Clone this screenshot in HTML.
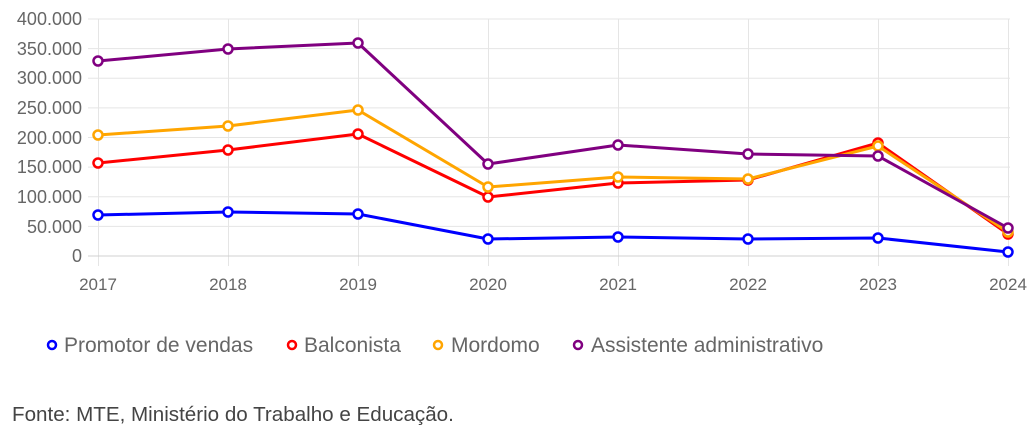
<!DOCTYPE html>
<html><head><meta charset="utf-8"><style>
body{margin:0;background:#fff;width:1034px;height:436px;overflow:hidden;font-family:"Liberation Sans",sans-serif}
</style></head><body>
<svg width="1034" height="436" xmlns="http://www.w3.org/2000/svg" style="position:absolute;left:0;top:0">
<g stroke="#e5e5e5" stroke-width="1">
<line x1="88" x2="1010" y1="19" y2="19"/><line x1="88" x2="1010" y1="48.6" y2="48.6"/>
<line x1="88" x2="1010" y1="78.2" y2="78.2"/><line x1="88" x2="1010" y1="107.9" y2="107.9"/>
<line x1="88" x2="1010" y1="137.5" y2="137.5"/><line x1="88" x2="1010" y1="167.1" y2="167.1"/>
<line x1="88" x2="1010" y1="196.8" y2="196.8"/><line x1="88" x2="1010" y1="226.4" y2="226.4"/>
<line x1="98.5" x2="98.5" y1="19" y2="266"/><line x1="228.5" x2="228.5" y1="19" y2="266"/>
<line x1="358.5" x2="358.5" y1="19" y2="266"/><line x1="488.5" x2="488.5" y1="19" y2="266"/>
<line x1="618.5" x2="618.5" y1="19" y2="266"/><line x1="748.5" x2="748.5" y1="19" y2="266"/>
<line x1="878.5" x2="878.5" y1="19" y2="266"/><line x1="1008.5" x2="1008.5" y1="19" y2="266"/>
</g>
<line x1="88" x2="1010" y1="256" y2="256" stroke="#d0d0d0"/>
<g font-size="18" fill="#666" text-anchor="end">
<text x="82" y="25">400.000</text><text x="82" y="55">350.000</text><text x="82" y="84">300.000</text>
<text x="82" y="114">250.000</text><text x="82" y="144">200.000</text><text x="82" y="173">150.000</text>
<text x="82" y="203">100.000</text><text x="82" y="233">50.000</text><text x="82" y="262">0</text>
</g>
<g font-size="17" fill="#666" text-anchor="middle">
<text x="98" y="290">2017</text><text x="228" y="290">2018</text><text x="358" y="290">2019</text><text x="488" y="290">2020</text>
<text x="618" y="290">2021</text><text x="748" y="290">2022</text><text x="878" y="290">2023</text><text x="1008" y="290">2024</text>
</g>
<g fill="none" stroke-width="3" stroke-linejoin="round">
<polyline stroke="#0000ff" points="98,215 228,212 358,214 488,239 618,237 748,239 878,238 1008,252"/>
<polyline stroke="#ff0000" points="98,163 228,150 358,134 488,197 618,183 748,180 878,143 1008,234"/>
<polyline stroke="#ffa500" points="98,135 228,126 358,110 488,187 618,177 748,179 878,146 1008,232"/>
<polyline stroke="#800080" points="98,61 228,49 358,43 488,164 618,145 748,154 878,156 1008,228"/>
</g>
<g fill="#fff" stroke-width="2.5">
<g stroke="#0000ff"><circle cx="98" cy="215" r="4.5"/><circle cx="228" cy="212" r="4.5"/><circle cx="358" cy="214" r="4.5"/><circle cx="488" cy="239" r="4.5"/><circle cx="618" cy="237" r="4.5"/><circle cx="748" cy="239" r="4.5"/><circle cx="878" cy="238" r="4.5"/><circle cx="1008" cy="252" r="4.5"/></g>
<g stroke="#ff0000"><circle cx="98" cy="163" r="4.5"/><circle cx="228" cy="150" r="4.5"/><circle cx="358" cy="134" r="4.5"/><circle cx="488" cy="197" r="4.5"/><circle cx="618" cy="183" r="4.5"/><circle cx="748" cy="180" r="4.5"/><circle cx="878" cy="143" r="4.5"/><circle cx="1008" cy="234" r="4.5"/></g>
<g stroke="#ffa500"><circle cx="98" cy="135" r="4.5"/><circle cx="228" cy="126" r="4.5"/><circle cx="358" cy="110" r="4.5"/><circle cx="488" cy="187" r="4.5"/><circle cx="618" cy="177" r="4.5"/><circle cx="748" cy="179" r="4.5"/><circle cx="878" cy="146" r="4.5"/><circle cx="1008" cy="232" r="4.5"/></g>
<g stroke="#800080"><circle cx="98" cy="61" r="4.5"/><circle cx="228" cy="49" r="4.5"/><circle cx="358" cy="43" r="4.5"/><circle cx="488" cy="164" r="4.5"/><circle cx="618" cy="145" r="4.5"/><circle cx="748" cy="154" r="4.5"/><circle cx="878" cy="156" r="4.5"/><circle cx="1008" cy="228" r="4.5"/></g>
</g>
<g fill="#fff" stroke-width="2.5">
<circle cx="52" cy="345" r="4" stroke="#0000ff"/><circle cx="292" cy="345" r="4" stroke="#ff0000"/>
<circle cx="438" cy="345" r="4" stroke="#ffa500"/><circle cx="578" cy="345" r="4" stroke="#800080"/>
</g>
<g font-size="21" fill="#666">
<text x="64" y="352">Promotor de vendas</text><text x="304" y="352">Balconista</text>
<text x="451" y="352">Mordomo</text><text x="591" y="352">Assistente administrativo</text>
</g>
<text x="12" y="421" font-size="20.6" fill="#444">Fonte: MTE, Ministério do Trabalho e Educação.</text>
</svg>
</body></html>
